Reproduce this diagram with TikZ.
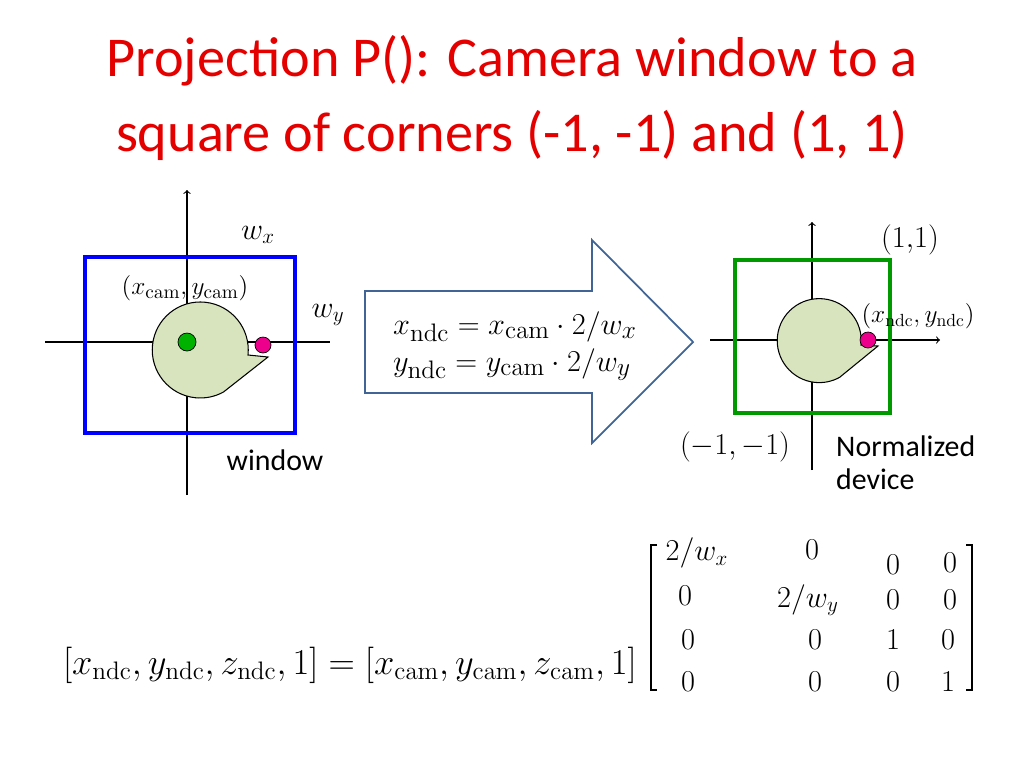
\documentclass[tikz,border=0pt]{standalone}
\usepackage[no-math]{fontspec}
\setmainfont{Carlito}
\usetikzlibrary{arrows, shapes.arrows}
\definecolor{blob}{RGB}{215,228,189}
\definecolor{arrowblue}{RGB}{65,100,150}
\tikzset{
  blobshape/.style={draw=black, fill=blob, line width=0.6pt},
  axis/.style={line width=0.6pt},
  mtxt/.style={font=\fontsize{18}{20}\selectfont},
  lbl/.style={font=\fontsize{17}{19}\selectfont}
}
\begin{document}
\begin{tikzpicture}[x=0.02cm, y=-0.02cm]
\useasboundingbox (0,0) rectangle (1024,768);

% title
\node (title) [red!90!black, font=\fontsize{32}{43}\selectfont, align=center] at (512,98)
  {Projection P(): Camera window to a\\square of corners (-1, -1) and (1, 1)};

% left: camera window
\draw [axis, ->] (187,495) -- (187,190);
\draw [axis] (45,342) -- (330,342);
\draw [blue, line width=2pt] (85,257) rectangle (295,433);
\draw [blobshape] (248,355) arc[start angle=6, end angle=-299, radius=48] -- (268,357) -- cycle;
\node (cam) [circle, draw, fill=green!70!black, inner sep=0pt, minimum size=0.36cm] at (187,342) {};
\node (cdot) [circle, draw, fill=magenta, inner sep=0pt, minimum size=0.32cm] at (263,345) {};
\node (wx) [mtxt] at (258,235) {$w_x$};
\node (wy) [mtxt] at (328,315) {$w_y$};
\node (camxy) [font=\fontsize{15}{17}\selectfont] at (185,288) {$(x_{\mathrm{cam}},y_{\mathrm{cam}})$};
\node (win) [lbl] at (275,460) {window};

% big arrow
\draw [arrowblue, line width=1pt] (365,291) -- (592,291) -- (592,240) -- (693,342)
  -- (592,443) -- (592,393) -- (365,393) -- cycle;
\node (eq) [font=\fontsize{19}{21}\selectfont, align=left] at (515,346)
  {$x_{\mathrm{ndc}}=x_{\mathrm{cam}}\cdot 2/w_x$\\[0pt]$y_{\mathrm{ndc}}=y_{\mathrm{cam}}\cdot 2/w_y$};

% right: normalized device
\draw [axis, ->] (812,470) -- (812,222);
\draw [axis, ->] (710,340) -- (940,340);
\draw [green!60!black, line width=2pt] (735,260) rectangle (890,413);
\draw [blobshape] (861,345) arc[start angle=6, end angle=-299, radius=42] -- (878,346) -- cycle;
\node (ndot) [circle, draw, fill=magenta, inner sep=0pt, minimum size=0.32cm] at (868,340) {};
\node (one) [mtxt] at (910,240) {$(1{,}1)$};
\node (ndcxy) [font=\fontsize{14}{16}\selectfont] at (918,316) {$(x_{\mathrm{ndc}},y_{\mathrm{ndc}})$};
\node (mone) [mtxt] at (735,447) {$(-1,-1)$};
\node (norm) [lbl, align=left, anchor=west] at (830,463) {Normalized\\device};

% matrix equation
\node (lhs) [font=\fontsize{21}{23}\selectfont, anchor=east] at (643,665)
  {$[x_{\mathrm{ndc}},y_{\mathrm{ndc}},z_{\mathrm{ndc}},1]=[x_{\mathrm{cam}},y_{\mathrm{cam}},z_{\mathrm{cam}},1]$};
\draw [line width=1pt] (657,545) -- (651,545) -- (651,690) -- (657,690);
\draw [line width=1pt] (966,545) -- (972,545) -- (972,690) -- (966,690);
\node (m11) [mtxt] at (697,553) {$2/w_x$};
\node (m12) [mtxt] at (812,550) {$0$};
\node (m13) [mtxt] at (893,565) {$0$};
\node (m14) [mtxt] at (950,563) {$0$};
\node (m21) [mtxt] at (685,596) {$0$};
\node (m22) [mtxt] at (808,600) {$2/w_y$};
\node (m23) [mtxt] at (893,600) {$0$};
\node (m24) [mtxt] at (950,600) {$0$};
\node (m31) [mtxt] at (688,640) {$0$};
\node (m32) [mtxt] at (815,640) {$0$};
\node (m33) [mtxt] at (893,640) {$1$};
\node (m34) [mtxt] at (948,640) {$0$};
\node (m41) [mtxt] at (688,682) {$0$};
\node (m42) [mtxt] at (815,682) {$0$};
\node (m43) [mtxt] at (893,682) {$0$};
\node (m44) [mtxt] at (948,682) {$1$};
\end{tikzpicture}
\end{document}
